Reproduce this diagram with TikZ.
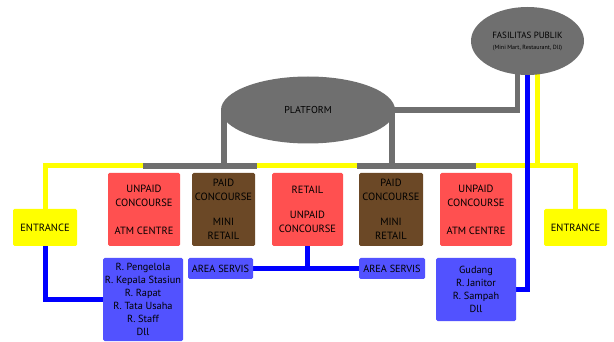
\documentclass[tikz,border=0pt]{standalone}
\usepackage{fontspec}
\setmainfont{PT Sans}
\usepackage{tikz}
\usetikzlibrary{shapes.geometric,positioning,backgrounds,calc}
\definecolor{ylw}{HTML}{FFFF00}
\definecolor{gry}{HTML}{6F6F6F}
\definecolor{redbox}{HTML}{FF5050}
\definecolor{brownbox}{HTML}{6B4826}
\definecolor{bluebox}{HTML}{5252FF}
\definecolor{blueline}{HTML}{0000FF}

\begin{document}
\begin{tikzpicture}[x=1pt, y=-1pt,
    box/.style={rounded corners=1.5pt, inner sep=1pt, align=center,
                font=\fontsize{10.5}{14}\selectfont},
    unpaid/.style={box, fill=redbox},
    paid/.style={box, fill=brownbox},
    entrance/.style={box, fill=ylw},
    service/.style={box, fill=bluebox, font=\fontsize{10.3}{13}\selectfont},
    oval/.style={ellipse, fill=gry, inner sep=0pt, align=center},
    ylwline/.style={ylw, line width=5pt},
    gryline/.style={gry, line width=5.5pt},
    bluline/.style={blueline, line width=5pt}]
  \useasboundingbox (0,0) rectangle (614,342);

  \node[oval, minimum width=113, minimum height=68] (fas) at (527.5,41)
    {\fontsize{9}{9}\selectfont FASILITAS PUBLIK\\[-1pt]\fontsize{6}{6}\selectfont (Mini Mart, Restaurant, Dll)};
  \node[oval, minimum width=174, minimum height=67] (plat) at (308,110)
    {\fontsize{10}{10}\selectfont PLATFORM};

  \node[entrance, minimum width=64, minimum height=37] (entL) at (45,227.5) {ENTRANCE};
  \node[unpaid, minimum width=72, minimum height=73] (unpL) at (144,209.5) {UNPAID\\CONCOURSE\\[14pt]ATM CENTRE};
  \node[paid, minimum width=63, minimum height=73] (paidL) at (223.5,209.5) {PAID\\CONCOURSE\\[11pt]MINI\\RETAIL};
  \node[unpaid, minimum width=71, minimum height=73] (retail) at (307.5,209.5) {RETAIL\\[11pt]UNPAID\\CONCOURSE};
  \node[paid, minimum width=64, minimum height=73] (paidR) at (391,209.5) {PAID\\CONCOURSE\\[11pt]MINI\\RETAIL};
  \node[unpaid, minimum width=72, minimum height=73] (unpR) at (476,209.5) {UNPAID\\CONCOURSE\\[14pt]ATM CENTRE};
  \node[entrance, minimum width=63, minimum height=37] (entR) at (575.5,227.5) {ENTRANCE};

  \node[service, minimum width=80, minimum height=83] (staff) at (143,299.5)
    {R. Pengelola\\R. Kepala Stasiun\\R. Rapat\\R. Tata Usaha\\R. Staff\\Dll};
  \node[service, minimum width=65, minimum height=21] (servL) at (220.5,268.5) {AREA SERVIS};
  \node[service, minimum width=66, minimum height=21] (servR) at (392,268.5) {AREA SERVIS};
  \node[service, minimum width=80, minimum height=63] (gud) at (476,289.5)
    {Gudang\\R. Janitor\\R. Sampah\\Dll};

  % corridor junctions
  \coordinate (busA) at (143,166);
  \coordinate (busB) at (257,166);
  \coordinate (busC) at (357,166);
  \coordinate (busD) at (476,166);
  \coordinate (legL) at (224,166);
  \coordinate (legR) at (392,166);

  \begin{scope}[on background layer]
    \draw[ylwline] (entL.north) |- (busA) -- (busD) -| (entR.north);
    \draw[ylwline] ([xshift=10]fas.center) -- ([xshift=10]fas.center |- busD);
    \draw[gryline] (busA) -- (busB);
    \draw[gryline] (busC) -- (busD);
    \draw[gryline] (legL) -- (legL |- plat.center);
    \draw[gryline] (legR) -- (legR |- plat.center);
    \draw[gryline] (plat.center) -| ([xshift=-10]fas.center);
    \draw[bluline] (fas.center) |- (gud.east);
    \draw[bluline] (entL.south) |- (staff.west);
    \draw[bluline] (retail.south) -- (retail.south |- servL.east);
    \draw[bluline] (servL.east) -- (servR.west);
  \end{scope}
\end{tikzpicture}
\end{document}
